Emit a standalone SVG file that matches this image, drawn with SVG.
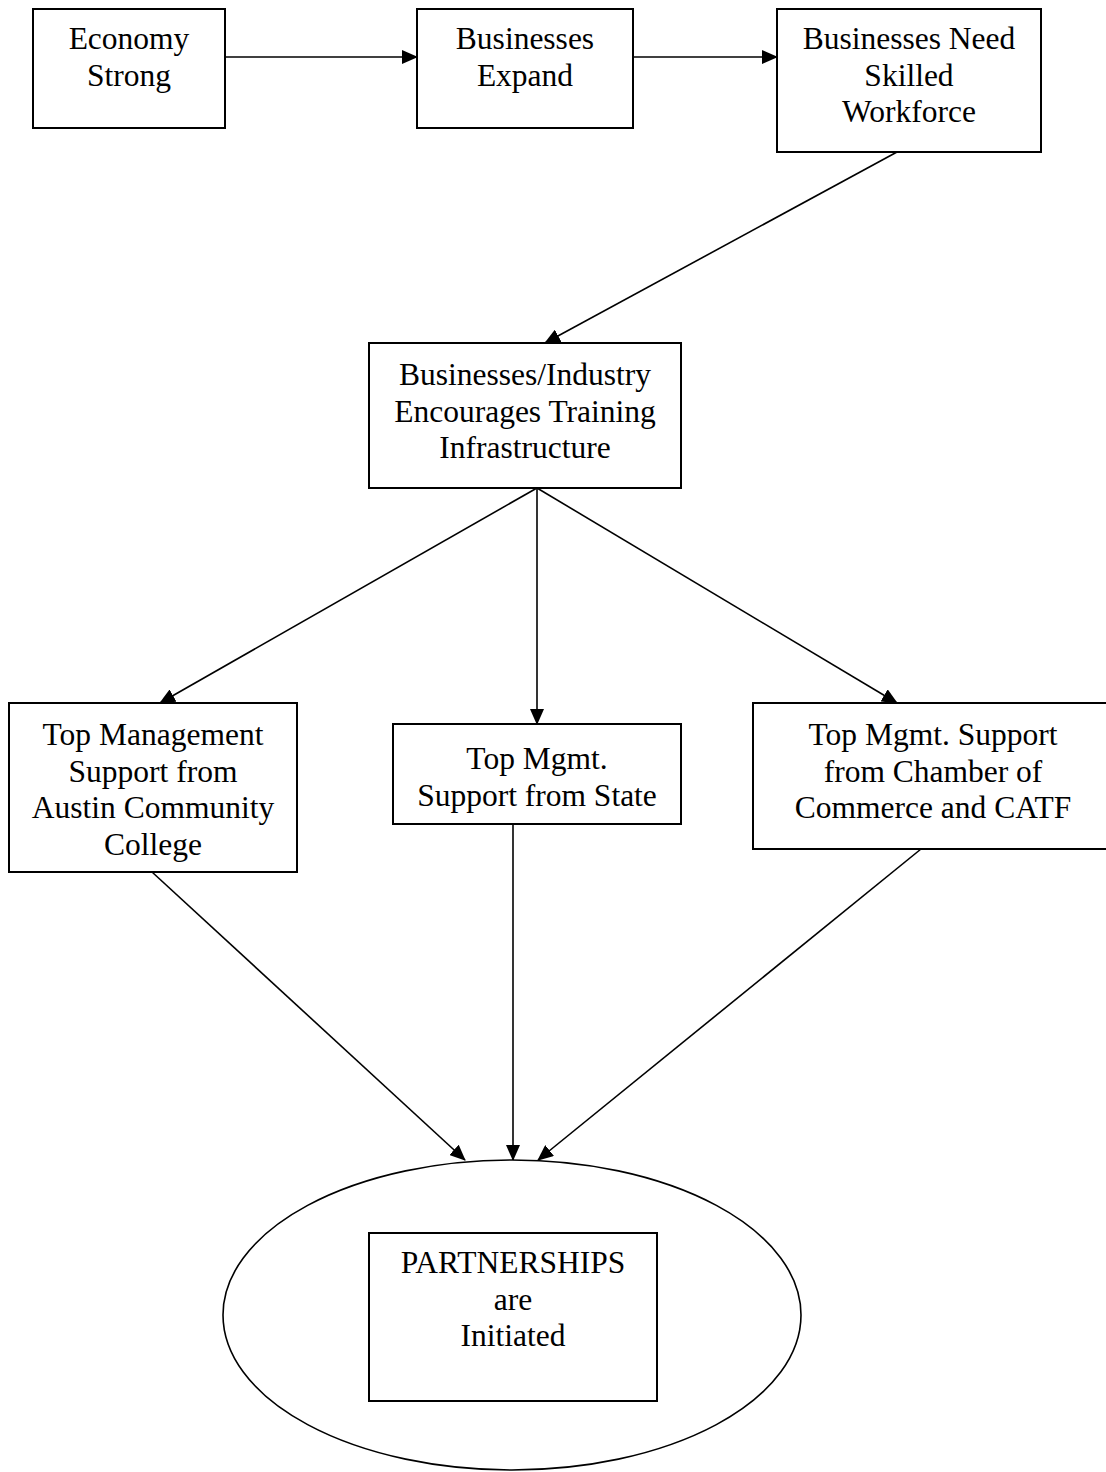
<svg xmlns="http://www.w3.org/2000/svg" width="1106" height="1472" viewBox="0 0 1106 1472">
<defs>
<marker id="ah" markerWidth="16" markerHeight="14" refX="15" refY="7" orient="auto" markerUnits="userSpaceOnUse">
<path d="M0,0 L16,7 L0,14 Z" fill="#000"/>
</marker>
<style>
.box{fill:#fff;stroke:#000;stroke-width:2}
.t{font-family:"Liberation Serif","Times New Roman",serif;font-size:31.5px;fill:#000;text-anchor:middle}
.c{stroke:#000;stroke-width:1.6;fill:none;marker-end:url(#ah)}
</style>
</defs>
<rect width="1106" height="1472" fill="#fff"/>
<g id="connectors">
<line class="c" x1="225" y1="57" x2="417" y2="57"/>
<line class="c" x1="633" y1="57" x2="777" y2="57"/>
<line class="c" x1="897" y1="152" x2="545" y2="343"/>
<line class="c" x1="537" y1="488" x2="160" y2="703"/>
<line class="c" x1="537" y1="488" x2="537" y2="724"/>
<line class="c" x1="537" y1="488" x2="897" y2="703"/>
<line class="c" x1="152" y1="872" x2="465" y2="1160"/>
<line class="c" x1="513" y1="824" x2="513" y2="1160"/>
<line class="c" x1="921" y1="849" x2="538" y2="1160"/>
</g>
<g id="n1">
<rect class="box" x="33" y="9" width="192" height="119"/>
<text class="t" x="129" y="49">Economy</text>
<text class="t" x="129" y="85.5">Strong</text>
</g>
<g id="n2">
<rect class="box" x="417" y="9" width="216" height="119"/>
<text class="t" x="525" y="49">Businesses</text>
<text class="t" x="525" y="85.5">Expand</text>
</g>
<g id="n3">
<rect class="box" x="777" y="9" width="264" height="143"/>
<text class="t" x="909" y="49">Businesses Need</text>
<text class="t" x="909" y="85.5">Skilled</text>
<text class="t" x="909" y="122">Workforce</text>
</g>
<g id="n4">
<rect class="box" x="369" y="343" width="312" height="145"/>
<text class="t" x="525" y="385">Businesses/Industry</text>
<text class="t" x="525" y="421.5">Encourages Training</text>
<text class="t" x="525" y="458">Infrastructure</text>
</g>
<g id="n5">
<rect class="box" x="9" y="703" width="288" height="169"/>
<text class="t" x="153" y="745">Top Management</text>
<text class="t" x="153" y="781.5">Support from</text>
<text class="t" x="153" y="818">Austin Community</text>
<text class="t" x="153" y="854.5">College</text>
</g>
<g id="n6">
<rect class="box" x="393" y="724" width="288" height="100"/>
<text class="t" x="537" y="769">Top Mgmt.</text>
<text class="t" x="537" y="805.5">Support from State</text>
</g>
<g id="n7">
<rect class="box" x="753" y="703" width="370" height="146"/>
<text class="t" x="933" y="745">Top Mgmt. Support</text>
<text class="t" x="933" y="781.5">from Chamber of</text>
<text class="t" x="933" y="818">Commerce and CATF</text>
</g>
<g id="n8">
<ellipse cx="512" cy="1315" rx="289" ry="155" fill="#fff" stroke="#000" stroke-width="1.6"/>
<rect class="box" x="369" y="1233" width="288" height="168"/>
<text class="t" x="513" y="1273">PARTNERSHIPS</text>
<text class="t" x="513" y="1309.5">are</text>
<text class="t" x="513" y="1346">Initiated</text>
</g>
</svg>
